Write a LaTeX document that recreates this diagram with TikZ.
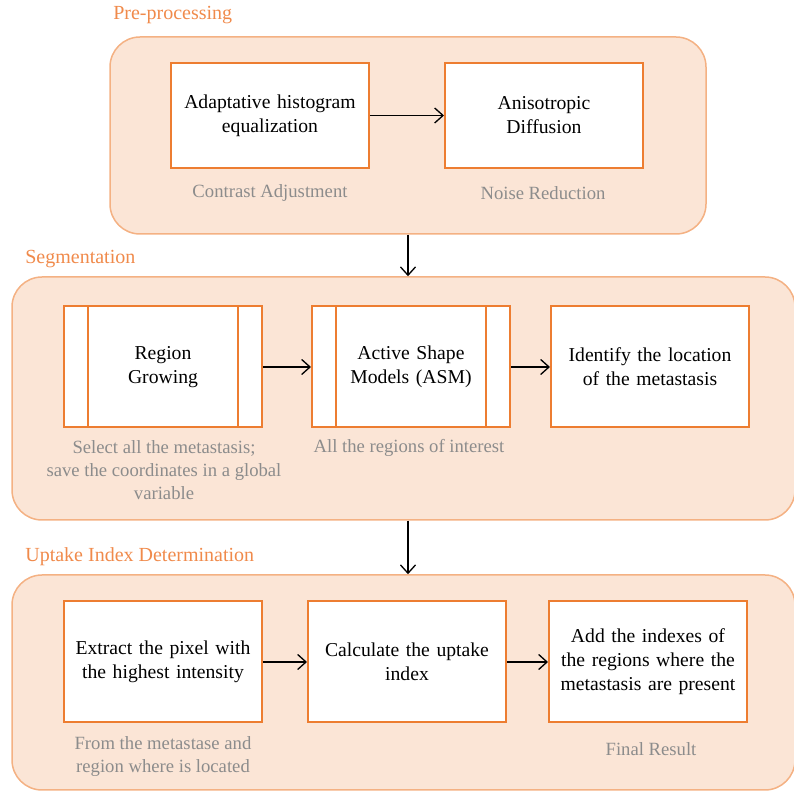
\documentclass[tikz,border=0pt]{standalone}
\usepackage{fontspec}
\setmainfont{Liberation Serif}
\usetikzlibrary{arrows.meta,fit}
\definecolor{peach}{HTML}{FBE5D6}
\definecolor{groupline}{HTML}{F4B183}
\definecolor{boxline}{HTML}{ED7D31}
\definecolor{titleorange}{HTML}{F08A4B}
\definecolor{notegray}{HTML}{8C8C8C}
\tikzset{
  group/.style={draw=groupline, fill=peach, line width=0.9pt, rounded corners=18pt, inner sep=0pt},
  stage/.style={draw=boxline, fill=white, line width=1.2pt, minimum width=118.8pt, minimum height=72.6pt, text width=112pt, align=center, font=\fontsize{11.8}{14.4}\selectfont},
  note/.style={text=notegray, align=center, font=\fontsize{11.2}{13.8}\selectfont},
  grouptitle/.style={text=titleorange, anchor=west, inner sep=0pt, font=\fontsize{12}{14}\selectfont},
  flow/.style={-{Straight Barb[length=5pt,width=9pt]}, line width=0.8pt},
}
\begin{document}
\begin{tikzpicture}[x=0.6pt,y=-0.6pt]
\useasboundingbox (0,0) rectangle (794,791);
% groups
\node[group, fit={(110,37) (706,234)}] (pre) {};
\node[group, fit={(12,277) (795,520)}] (seg) {};
\node[group, fit={(12,575) (795,790)}] (upt) {};
\node[grouptitle] (pretitle) at (113,15) {Pre-processing};
\node[grouptitle] (segtitle) at (25,259) {Segmentation};
\node[grouptitle] (upttitle) at (25,557) {Uptake Index Determination};
% pre-processing
\node[stage, minimum height=63pt] (ahe) at (270,115.5) {Adaptative histogram\\equalization};
\node[stage, minimum height=63pt] (ad) at (544,115.5) {Anisotropic\\Diffusion};
\node[note] (ahenote) at (270,193) {Contrast Adjustment};
\node[note] (adnote) at (543,193) {Noise Reduction};
\draw[flow] (ahe) -- (ad);
% segmentation
\node[stage] (rg) at (163,367) {Region\\Growing};
\node[stage] (asm) at (411,367) {Active Shape\\Models (ASM)};
\node[stage] (loc) at (650,367) {Identify the location\\of the metastasis};
\draw[boxline, line width=1.2pt] ([xshift=15pt]rg.north west) -- ([xshift=15pt]rg.south west) ([xshift=-15pt]rg.north east) -- ([xshift=-15pt]rg.south east);
\draw[boxline, line width=1.2pt] ([xshift=15pt]asm.north west) -- ([xshift=15pt]asm.south west) ([xshift=-15pt]asm.north east) -- ([xshift=-15pt]asm.south east);
\node[note] (rgnote) at (164,470) {Select all the metastasis;\\save the coordinates in a global\\variable};
\node[note] (asmnote) at (409,448) {All the regions of interest};
\draw[flow] (rg) -- (asm);
\draw[flow] (asm) -- (loc);
% uptake index
\node[stage] (pix) at (163,662) {Extract the pixel with\\the highest intensity};
\node[stage] (calc) at (407,662) {Calculate the uptake\\index};
\node[stage] (add) at (648,662) {Add the indexes of\\the regions where the\\metastasis are present};
\node[note] (pixnote) at (163,757) {From the metastase and\\region where is located};
\node[note] (addnote) at (651,749) {Final Result};
\draw[flow] (pix) -- (calc);
\draw[flow] (calc) -- (add);
% between groups
\draw[flow] (pre.south) -- (pre.south |- seg.north);
\draw[flow] (seg.south -| pre.south) -- (pre.south |- upt.north);
\end{tikzpicture}
\end{document}
